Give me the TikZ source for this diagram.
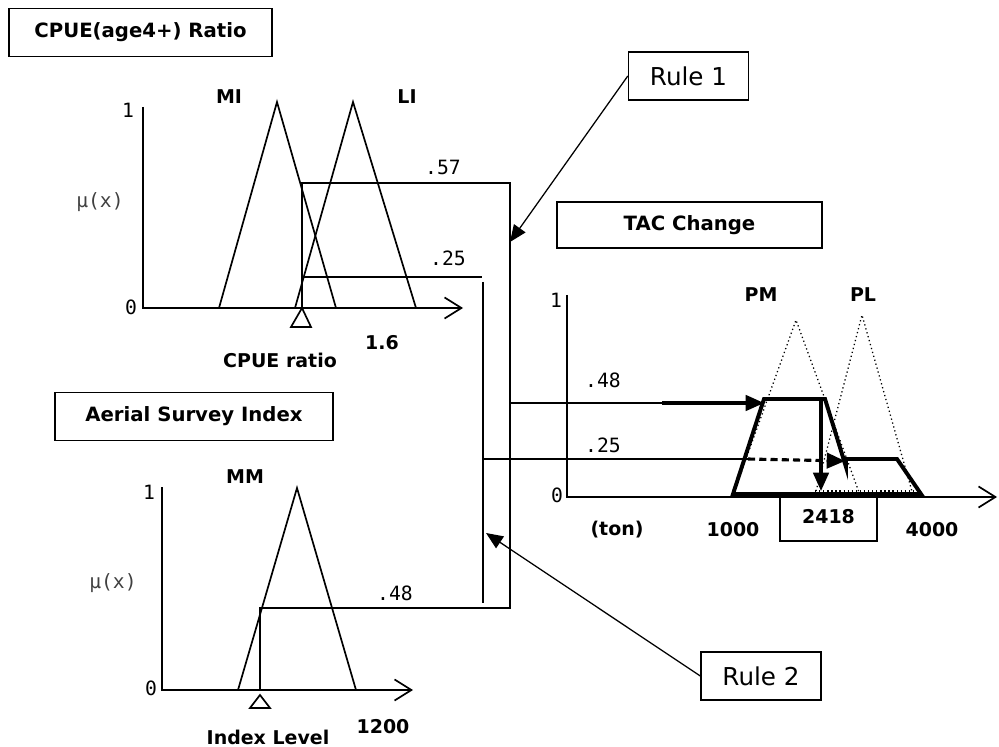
\documentclass[tikz,border=0pt]{standalone}
\usepackage{fontspec}
\setmainfont{DejaVu Sans}
\newfontfamily\plotfont{DejaVu Sans Mono}
\usepackage{tikz}
\usetikzlibrary{arrows.meta}

\begin{document}
\begin{tikzpicture}[x=0.025cm, y=-0.025cm, >=Triangle,
    curva/.style={line width=1.2pt, line join=miter},
    eixo/.style={line width=1.2pt, -{Straight Barb[length=12pt, width=15pt, line width=1.2pt]}},
    titulo/.style={draw, line width=1.1pt, inner sep=0pt, minimum height=1.2cm, font=\bfseries\fontsize{14}{16}\selectfont},
    regra/.style={draw, line width=1pt, inner sep=0pt, minimum width=3cm, minimum height=1.2cm, font=\fontsize{17.5}{20}\selectfont},
    rotulo/.style={font=\bfseries\fontsize{13.5}{15}\selectfont},
    grau/.style={font=\plotfont\fontsize{14}{16}\selectfont},
    ponteiro/.style={line width=0.9pt, -{Triangle[length=12pt, width=10pt]}},
    corte/.style={line width=2.2pt, -{Triangle[length=13pt, width=11pt]}},
    pontilhado/.style={dotted, line width=0.9pt},
    saida/.style={line width=2.8pt, line join=miter}]

    \useasboundingbox (0,0) rectangle (999,747);

    % Titulos
    \node[titulo, minimum width=6.575cm] (cpue) at (140.5,32.5) {CPUE(age4+) Ratio};
    \node[titulo, minimum width=6.95cm] (aerial) at (194,416.5) {Aerial Survey Index};
    \node[titulo, minimum width=6.625cm, minimum height=1.15cm] (tac) at (689.5,225) {TAC Change};
    \node[regra] (r1) at (688.5,76) {Rule 1};
    \node[regra] (r2) at (761,676) {Rule 2};

    % CPUE ratio
    \draw[eixo] (143,107) -- (143,308) -- (463,308);
    \draw[curva] (219,308) -- (277,102) -- (336,308);
    \draw[curva] (295,308) -- (353,102) -- (416,308);
    \draw[curva] (291,327) -- (302,308) -- (311,327) -- cycle;
    \node[grau] (c1) at (128,110) {1};
    \node[grau] (c0) at (131,307) {0};
    \node[grau, black!75] (cmu) at (100,202) {μ(x)};
    \node[rotulo] (cMI) at (229,97) {MI};
    \node[rotulo] (cLI) at (407,97) {LI};
    \node[grau] (c57) at (443,167) {.57};
    \node[grau] (c25) at (448,258) {.25};
    \node[rotulo] (c16) at (382,343) {1.6};
    \node[rotulo] (cx) at (280,360) {CPUE ratio};

    % Aerial survey
    \draw[eixo] (162,487) -- (162,690) -- (413,690);
    \draw[curva] (238,690) -- (297,488) -- (356,690);
    \draw[curva] (250,708) -- (260,695) -- (270,708) -- cycle;
    \node[grau] (a1) at (149,492) {1};
    \node[grau] (a0) at (151,688) {0};
    \node[grau, black!75] (amu) at (113,583) {μ(x)};
    \node[rotulo] (aMM) at (245,477) {MM};
    \node[grau] (a48) at (395,593) {.48};
    \node[rotulo] (a12) at (383,727) {1200};
    \node[rotulo] (ax) at (268,737) {Index Level};

    % Regras (min)
    \draw[curva] (302,308) |- (510,183) -- (510,608) -| (260,690);
    \draw[curva] (304,277) -- (482,277);
    \draw[curva] (483,282) -- (483,603);
    \draw[curva] (510,403) -- (662,403);
    \draw[curva] (483,459) -- (748,459);
    \coordinate (alvo1) at (510,242);
    \coordinate (alvo2) at (486,533);
    \draw[ponteiro] (r1.west) -- (alvo1);
    \draw[ponteiro] (r2.west) -- (alvo2);

    % TAC change
    \draw[eixo] (567,295) -- (567,497) -- (997,497);
    \draw[pontilhado] (733,495) -- (796,320) -- (860,495);
    \draw[pontilhado] (815,495) -- (862,315) -- (913,495);
    \draw[pontilhado] (815,491) -- (913,491);
    \draw[saida] (733,494) -- (764,399) -- (825,399) -- (846,467) -- (846,459) -- (897,459) -- (921,494) -- cycle;
    \draw[corte] (662,403) -- (764,403);
    \draw[corte, dash pattern=on 5pt off 3pt] (748,459) -- (845,461);
    \draw[corte] (821,399) -- (821,491);
    \node[grau] (t1) at (556,300) {1};
    \node[grau] (t0) at (557,495) {0};
    \node[grau] (t48) at (603,380) {.48};
    \node[grau] (t25) at (603,445) {.25};
    \node[rotulo] (tPM) at (761,295) {PM};
    \node[rotulo] (tPL) at (863,295) {PL};
    \node[rotulo] (tton) at (617,530) {(ton)};
    \node[rotulo] (t1000) at (733,530) {1000};
    \node[rotulo] (t4000) at (932,530) {4000};
    \node[draw, line width=1.1pt, minimum width=2.425cm, minimum height=1.2cm, inner sep=0pt, rotulo] (peso) at (828.5,517) {2418};
\end{tikzpicture}
\end{document}
